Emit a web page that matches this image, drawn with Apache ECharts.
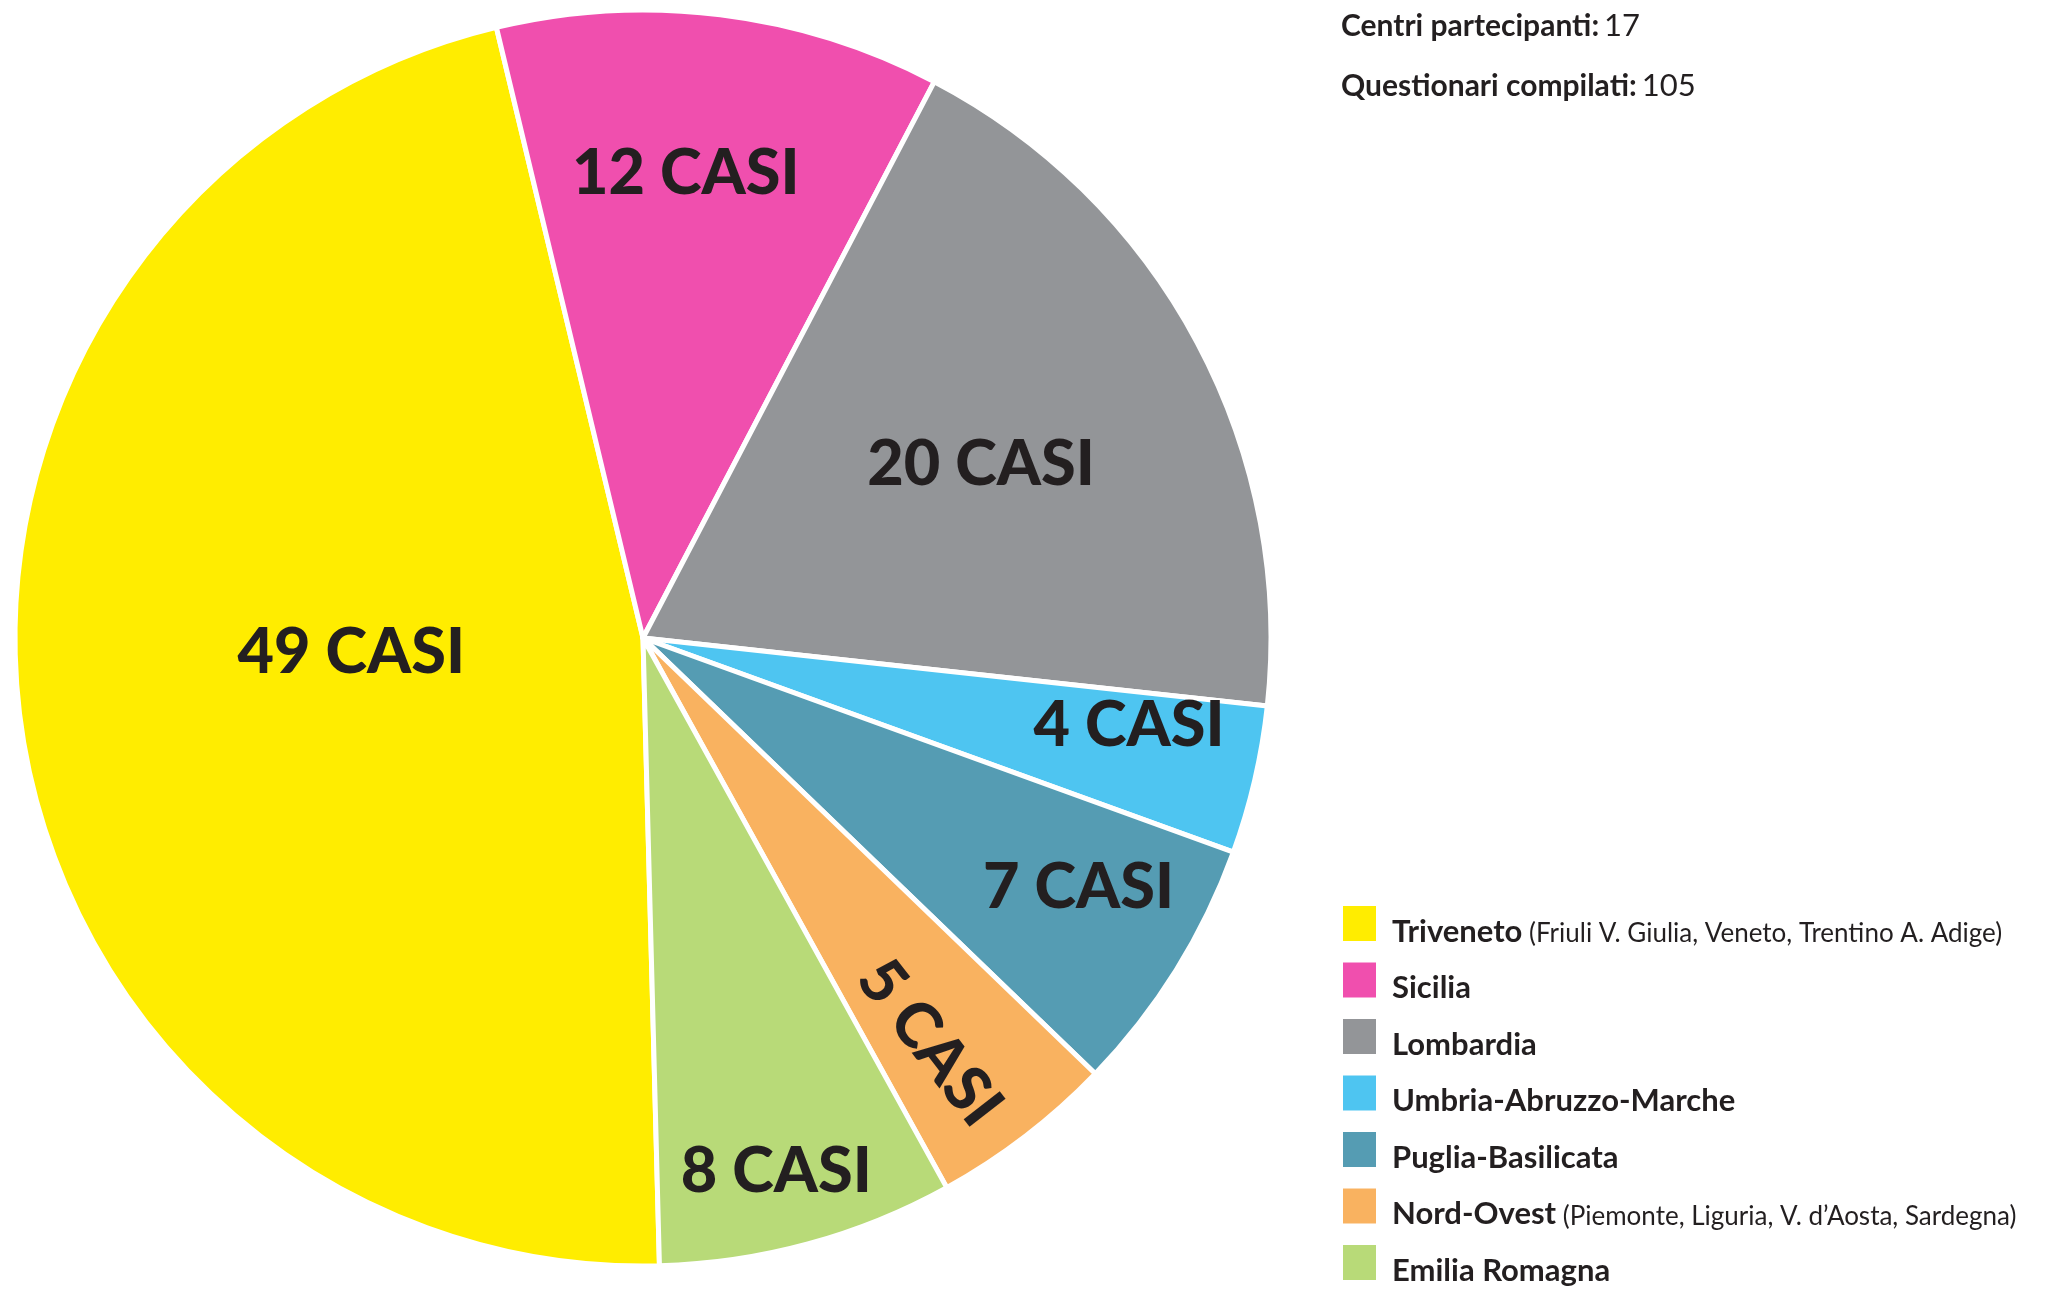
<html>
<head>
    <meta charset="utf-8">
    <title>ECharts</title>
    <script src="https://cdn.jsdelivr.net/npm/echarts@6/dist/echarts.min.js"></script>
    <style>body{margin:0;background:#fff}</style>
</head>
<body>
    <div id="main" style="width:2058px;height:1290px;"></div>
    <script type="text/javascript">
        // dati
        var regions = ['Triveneto', 'Sicilia', 'Lombardia', 'Umbria-Abruzzo-Marche', 'Puglia-Basilicata', 'Nord-Ovest', 'Emilia Romagna'];
        var notes = ['(Friuli V. Giulia, Veneto, Trentino A. Adige)', '', '', '', '', '(Piemonte, Liguria, V. d\u2019Aosta, Sardegna)', ''];
        var casi = [49, 12, 20, 4, 7, 5, 8];
        var colori = ['#ffed00', '#f04fae', '#939598', '#4ec5f1', '#559cb3', '#f9b260', '#b8da78'];
        var infoLabel = ['Centri partecipanti:', 'Questionari compilati:'];
        var infoValue = [17, 105];

        var myChart = echarts.init(document.getElementById('main'));

        // layout
        var centro = [643, 638];
        var raggio = 628;
        var startAngle = -88.5;
        // distanza etichetta dal centro, piccolo spostamento angolare e rotazione, per fetta
        var distLabel = [289, 463, 377, 491, 499, 493, 547];
        var shiftLabel = [-4.7, 1.8, -0.9, 2.8, 2.1, -2.2, -1.2];
        var rotLabel = [0, 0, 0, 0, 0, -52, 0];
        var testo = '#231f20';

        // una serie trasparente per ogni etichetta, così "inside" cade dove serve
        function serieEtichetta(i) {
            var d = distLabel[i];
            var r0 = Math.max(0, 2 * d - raggio);
            var r = r0 > 0 ? raggio : 2 * d;
            return {
                type: 'pie',
                center: centro,
                radius: [r0, r],
                startAngle: startAngle + shiftLabel[i],
                clockwise: true,
                silent: true,
                z: 5,
                avoidLabelOverlap: false,
                itemStyle: {color: 'transparent'},
                labelLine: {show: false},
                label: {
                    position: 'inside',
                    formatter: '{c} CASI',
                    rotate: rotLabel[i],
                    color: testo,
                    fontFamily: 'Lato',
                    fontWeight: 900,
                    fontSize: 63
                },
                data: regions.map(function (n, j) {
                    return {name: n, value: casi[j], label: {show: j === i}};
                })
            };
        }

        var series = [{
            type: 'pie',
            center: centro,
            radius: [0, raggio],
            startAngle: startAngle,
            clockwise: true,
            silent: true,
            label: {show: false},
            labelLine: {show: false},
            itemStyle: {borderColor: '#fff', borderWidth: 5},
            data: regions.map(function (n, j) {
                return {name: n, value: casi[j], itemStyle: {color: colori[j]}};
            })
        }];
        for (var i = 0; i < regions.length; i++) series.push(serieEtichetta(i));

        var option = {
            animation: false,
            title: {
                left: 1341,
                top: -4,
                padding: 0,
                text: infoLabel.map(function (l, k) { return '{b|' + l + '} {r|' + infoValue[k] + '}'; }).join('\n'),
                textStyle: {
                    rich: {
                        b: {fontFamily: 'Lato', fontWeight: 'bold', fontSize: 30, lineHeight: 60, color: testo},
                        r: {fontFamily: 'Lato', fontWeight: 'normal', fontSize: 31, lineHeight: 60, color: testo}
                    }
                }
            },
            legend: {
                orient: 'vertical',
                left: 1341,
                top: 904,
                height: 600,
                padding: 0,
                icon: 'rect',
                itemWidth: 35,
                itemHeight: 37,
                itemGap: 13.5,
                selectedMode: false,
                data: regions,
                formatter: function (name) {
                    var k = regions.indexOf(name);
                    return '{n|' + name + '}' + (notes[k] ? '{s| ' + notes[k] + '}' : '');
                },
                textStyle: {
                    padding: [16, 0, 0, 10],
                    rich: {
                        n: {fontFamily: 'Lato', fontWeight: 'bold', fontSize: 31, color: testo, verticalAlign: 'bottom'},
                        s: {fontFamily: 'Lato', fontSize: 26, color: testo, verticalAlign: 'bottom'}
                    }
                }
            },
            series: series
        };

        myChart.setOption(option);
    </script>
</body>
</html>
